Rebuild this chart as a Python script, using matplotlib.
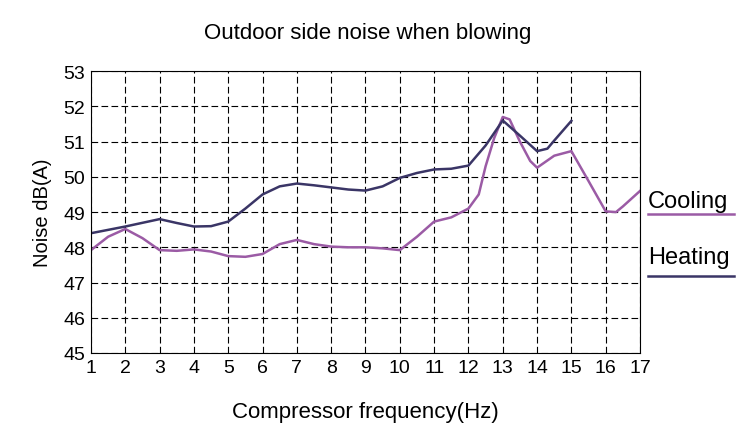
import matplotlib
matplotlib.use("Agg")
import matplotlib.pyplot as plt
from matplotlib.lines import Line2D

plt.rcParams['font.family'] = ['Liberation Sans', 'DejaVu Sans']

# compressor frequency step vs noise (dB(A))
heat_x = [1, 2, 3, 3.5, 4, 4.5, 5, 5.5, 6, 6.5, 7, 7.5, 8, 8.5, 9, 9.5, 10,
          10.5, 11, 11.5, 12, 12.5, 13, 13.5, 14, 14.3, 14.5, 15]
heat_y = [48.4, 48.59, 48.8, 48.69, 48.59, 48.6, 48.73, 49.1, 49.5, 49.73,
          49.81, 49.76, 49.7, 49.64, 49.61, 49.73, 49.97, 50.11, 50.21, 50.23,
          50.32, 50.89, 51.6, 51.17, 50.73, 50.8, 51.03, 51.59]

cool_x = [1, 1.5, 2, 2.5, 3, 3.5, 4, 4.5, 5, 5.5, 6, 6.5, 7, 7.5, 8, 8.5, 9,
          9.5, 10, 10.5, 11, 11.5, 12, 12.3, 12.5, 12.75, 13, 13.2, 13.5,
          13.8, 14, 14.5, 15, 15.5, 16, 16.3, 16.5, 17]
cool_y = [47.92, 48.3, 48.52, 48.26, 47.92, 47.9, 47.94, 47.88, 47.75, 47.73,
          47.81, 48.09, 48.21, 48.09, 48.02, 48.0, 48.0, 47.97, 47.92, 48.3,
          48.73, 48.85, 49.1, 49.5, 50.3, 51.1, 51.7, 51.63, 51.0, 50.45,
          50.26, 50.6, 50.73, 49.88, 49.02, 49.0, 49.16, 49.6]

x_ticks = list(range(1, 18))
y_ticks = list(range(45, 54))

cool_color = '#9b5ba5'
heat_color = '#3a3566'

fig = plt.figure(figsize=(7.36, 4.27), dpi=100)
ax = fig.add_axes([0.1236, 0.171, 0.746, 0.660])

ax.plot(cool_x, cool_y, color=cool_color, lw=1.8)
ax.plot(heat_x, heat_y, color=heat_color, lw=1.8)

ax.set_xlim(1, 17)
ax.set_ylim(45, 53)
ax.set_xticks(x_ticks)
ax.set_yticks(y_ticks)
ax.tick_params(length=0, labelsize=14, pad=4)
ax.grid(True, color='black', ls=(0, (6, 3)), lw=0.8)
for s in ax.spines.values():
    s.set_color('black')
    s.set_linewidth(0.8)

ax.set_ylabel('Noise dB(A)', fontsize=14.5, labelpad=8)
ax.set_xlabel('Compressor frequency(Hz)', fontsize=16, labelpad=18)
fig.text(0.5, 0.922, 'Outdoor side noise when blowing', ha='center',
         va='center', fontsize=16)

# legend drawn by hand to the right of the plot
fig.text(0.880, 0.527, 'Cooling', fontsize=17, va='center')
fig.add_artist(Line2D([0.880, 0.997], [0.497, 0.497], color=cool_color,
                      lw=1.8, transform=fig.transFigure))
fig.text(0.880, 0.396, 'Heating', fontsize=17, va='center')
fig.add_artist(Line2D([0.880, 0.997], [0.351, 0.351], color=heat_color,
                      lw=1.8, transform=fig.transFigure))

fig.savefig('out.png', dpi=100)
